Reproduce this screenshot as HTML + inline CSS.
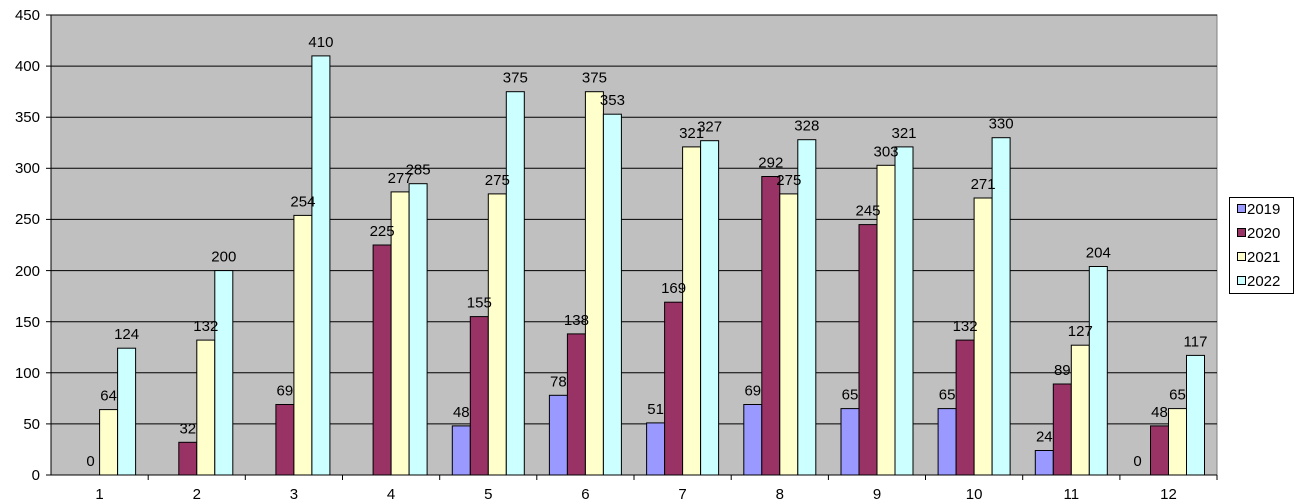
<!DOCTYPE html>
<html><head><meta charset="utf-8"><style>
html,body{margin:0;padding:0;background:#fff;}
svg{display:block;font-family:"Liberation Sans",Arial,sans-serif;font-size:15px;}
</style></head><body>
<svg width="1298" height="504" viewBox="0 0 1298 504" xmlns="http://www.w3.org/2000/svg">
<rect x="51" y="15" width="1166" height="460" fill="#C0C0C0" stroke="#808080"/>
<g stroke="#000" stroke-width="1">
<line x1="51" y1="423.9" x2="1217" y2="423.9"/>
<line x1="51" y1="372.8" x2="1217" y2="372.8"/>
<line x1="51" y1="321.7" x2="1217" y2="321.7"/>
<line x1="51" y1="270.6" x2="1217" y2="270.6"/>
<line x1="51" y1="219.4" x2="1217" y2="219.4"/>
<line x1="51" y1="168.3" x2="1217" y2="168.3"/>
<line x1="51" y1="117.2" x2="1217" y2="117.2"/>
<line x1="51" y1="66.1" x2="1217" y2="66.1"/>
<line x1="51" y1="15" x2="1217" y2="15"/>
<line x1="51" y1="15" x2="51" y2="475"/>
<line x1="46" y1="475" x2="1217" y2="475"/>
<line x1="46" y1="423.9" x2="51" y2="423.9"/><line x1="46" y1="372.8" x2="51" y2="372.8"/><line x1="46" y1="321.7" x2="51" y2="321.7"/><line x1="46" y1="270.6" x2="51" y2="270.6"/><line x1="46" y1="219.4" x2="51" y2="219.4"/><line x1="46" y1="168.3" x2="51" y2="168.3"/><line x1="46" y1="117.2" x2="51" y2="117.2"/><line x1="46" y1="66.1" x2="51" y2="66.1"/><line x1="46" y1="15" x2="51" y2="15"/>
<line x1="148.2" y1="475" x2="148.2" y2="480"/><line x1="245.3" y1="475" x2="245.3" y2="480"/><line x1="342.5" y1="475" x2="342.5" y2="480"/><line x1="439.7" y1="475" x2="439.7" y2="480"/><line x1="536.8" y1="475" x2="536.8" y2="480"/><line x1="634" y1="475" x2="634" y2="480"/><line x1="731.2" y1="475" x2="731.2" y2="480"/><line x1="828.4" y1="475" x2="828.4" y2="480"/><line x1="925.5" y1="475" x2="925.5" y2="480"/><line x1="1022.7" y1="475" x2="1022.7" y2="480"/><line x1="1119.9" y1="475" x2="1119.9" y2="480"/><line x1="1217" y1="475" x2="1217" y2="480"/>
</g>
<g text-anchor="end">
<text x="40" y="480">0</text><text x="40" y="429">50</text><text x="40" y="378">100</text><text x="40" y="327">150</text><text x="40" y="276">200</text><text x="40" y="224">250</text><text x="40" y="173">300</text><text x="40" y="122">350</text><text x="40" y="71">400</text><text x="40" y="20">450</text>
</g>
<g text-anchor="middle">
<text x="99.6" y="499">1</text><text x="196.8" y="499">2</text><text x="293.9" y="499">3</text><text x="391.1" y="499">4</text><text x="488.3" y="499">5</text><text x="585.4" y="499">6</text><text x="682.6" y="499">7</text><text x="779.8" y="499">8</text><text x="877" y="499">9</text><text x="974.1" y="499">10</text><text x="1071.3" y="499">11</text><text x="1168.5" y="499">12</text>
</g>
<g stroke="#000" stroke-width="1" text-anchor="middle">
<g transform="translate(63.6,0)">
<rect x="36" y="409.6" width="18" height="65.4" fill="#FFFFCC"/><rect x="54" y="348.2" width="18" height="126.8" fill="#CCFFFF"/>
<g stroke="none"><text x="27" y="466">0</text><text x="45" y="400.6">64</text><text x="63" y="339.2">124</text></g></g>
<g transform="translate(160.8,0)">
<rect x="18" y="442.3" width="18" height="32.7" fill="#993366"/><rect x="36" y="340.1" width="18" height="134.9" fill="#FFFFCC"/><rect x="54" y="270.6" width="18" height="204.4" fill="#CCFFFF"/>
<g stroke="none"><text x="27" y="433.3">32</text><text x="45" y="331.1">132</text><text x="63" y="261.6">200</text></g></g>
<g transform="translate(257.9,0)">
<rect x="18" y="404.5" width="18" height="70.5" fill="#993366"/><rect x="36" y="215.4" width="18" height="259.6" fill="#FFFFCC"/><rect x="54" y="55.9" width="18" height="419.1" fill="#CCFFFF"/>
<g stroke="none"><text x="27" y="395.5">69</text><text x="45" y="206.4">254</text><text x="63" y="46.9">410</text></g></g>
<g transform="translate(355.1,0)">
<rect x="18" y="245" width="18" height="230" fill="#993366"/><rect x="36" y="191.9" width="18" height="283.1" fill="#FFFFCC"/><rect x="54" y="183.7" width="18" height="291.3" fill="#CCFFFF"/>
<g stroke="none"><text x="27" y="236">225</text><text x="45" y="182.9">277</text><text x="63" y="174.7">285</text></g></g>
<g transform="translate(452.3,0)">
<rect x="0" y="425.9" width="18" height="49.1" fill="#9999FF"/><rect x="18" y="316.6" width="18" height="158.4" fill="#993366"/><rect x="36" y="193.9" width="18" height="281.1" fill="#FFFFCC"/><rect x="54" y="91.7" width="18" height="383.3" fill="#CCFFFF"/>
<g stroke="none"><text x="9" y="416.9">48</text><text x="27" y="307.6">155</text><text x="45" y="184.9">275</text><text x="63" y="82.7">375</text></g></g>
<g transform="translate(549.4,0)">
<rect x="0" y="395.3" width="18" height="79.7" fill="#9999FF"/><rect x="18" y="333.9" width="18" height="141.1" fill="#993366"/><rect x="36" y="91.7" width="18" height="383.3" fill="#FFFFCC"/><rect x="54" y="114.2" width="18" height="360.8" fill="#CCFFFF"/>
<g stroke="none"><text x="9" y="386.3">78</text><text x="27" y="324.9">138</text><text x="45" y="82.7">375</text><text x="63" y="105.2">353</text></g></g>
<g transform="translate(646.6,0)">
<rect x="0" y="422.9" width="18" height="52.1" fill="#9999FF"/><rect x="18" y="302.2" width="18" height="172.8" fill="#993366"/><rect x="36" y="146.9" width="18" height="328.1" fill="#FFFFCC"/><rect x="54" y="140.7" width="18" height="334.3" fill="#CCFFFF"/>
<g stroke="none"><text x="9" y="413.9">51</text><text x="27" y="293.2">169</text><text x="45" y="137.9">321</text><text x="63" y="131.7">327</text></g></g>
<g transform="translate(743.8,0)">
<rect x="0" y="404.5" width="18" height="70.5" fill="#9999FF"/><rect x="18" y="176.5" width="18" height="298.5" fill="#993366"/><rect x="36" y="193.9" width="18" height="281.1" fill="#FFFFCC"/><rect x="54" y="139.7" width="18" height="335.3" fill="#CCFFFF"/>
<g stroke="none"><text x="9" y="395.5">69</text><text x="27" y="167.5">292</text><text x="45" y="184.9">275</text><text x="63" y="130.7">328</text></g></g>
<g transform="translate(841,0)">
<rect x="0" y="408.6" width="18" height="66.4" fill="#9999FF"/><rect x="18" y="224.6" width="18" height="250.4" fill="#993366"/><rect x="36" y="165.3" width="18" height="309.7" fill="#FFFFCC"/><rect x="54" y="146.9" width="18" height="328.1" fill="#CCFFFF"/>
<g stroke="none"><text x="9" y="399.6">65</text><text x="27" y="215.6">245</text><text x="45" y="156.3">303</text><text x="63" y="137.9">321</text></g></g>
<g transform="translate(938.1,0)">
<rect x="0" y="408.6" width="18" height="66.4" fill="#9999FF"/><rect x="18" y="340.1" width="18" height="134.9" fill="#993366"/><rect x="36" y="198" width="18" height="277" fill="#FFFFCC"/><rect x="54" y="137.7" width="18" height="337.3" fill="#CCFFFF"/>
<g stroke="none"><text x="9" y="399.6">65</text><text x="27" y="331.1">132</text><text x="45" y="189">271</text><text x="63" y="128.7">330</text></g></g>
<g transform="translate(1035.3,0)">
<rect x="0" y="450.5" width="18" height="24.5" fill="#9999FF"/><rect x="18" y="384" width="18" height="91" fill="#993366"/><rect x="36" y="345.2" width="18" height="129.8" fill="#FFFFCC"/><rect x="54" y="266.5" width="18" height="208.5" fill="#CCFFFF"/>
<g stroke="none"><text x="9" y="441.5">24</text><text x="27" y="375">89</text><text x="45" y="336.2">127</text><text x="63" y="257.5">204</text></g></g>
<g transform="translate(1132.5,0)">
<rect x="18" y="425.9" width="18" height="49.1" fill="#993366"/><rect x="36" y="408.6" width="18" height="66.4" fill="#FFFFCC"/><rect x="54" y="355.4" width="18" height="119.6" fill="#CCFFFF"/>
<g stroke="none"><text x="5" y="466">0</text><text x="27" y="416.9">48</text><text x="45" y="399.6">65</text><text x="63" y="346.4">117</text></g></g>
</g>
<rect x="1229.5" y="197.5" width="64" height="96" fill="#fff" stroke="#000"/>
<g stroke="#000">
<rect x="1237.5" y="204.5" width="8" height="8" fill="#9999FF"/>
<rect x="1237.5" y="228.5" width="8" height="8" fill="#993366"/>
<rect x="1237.5" y="252.5" width="8" height="8" fill="#FFFFCC"/>
<rect x="1237.5" y="276.5" width="8" height="8" fill="#CCFFFF"/>
</g>
<g font-size="15">
<text x="1247" y="214">2019</text><text x="1247" y="238">2020</text><text x="1247" y="262">2021</text><text x="1247" y="286">2022</text>
</g>
</svg>
</body></html>
